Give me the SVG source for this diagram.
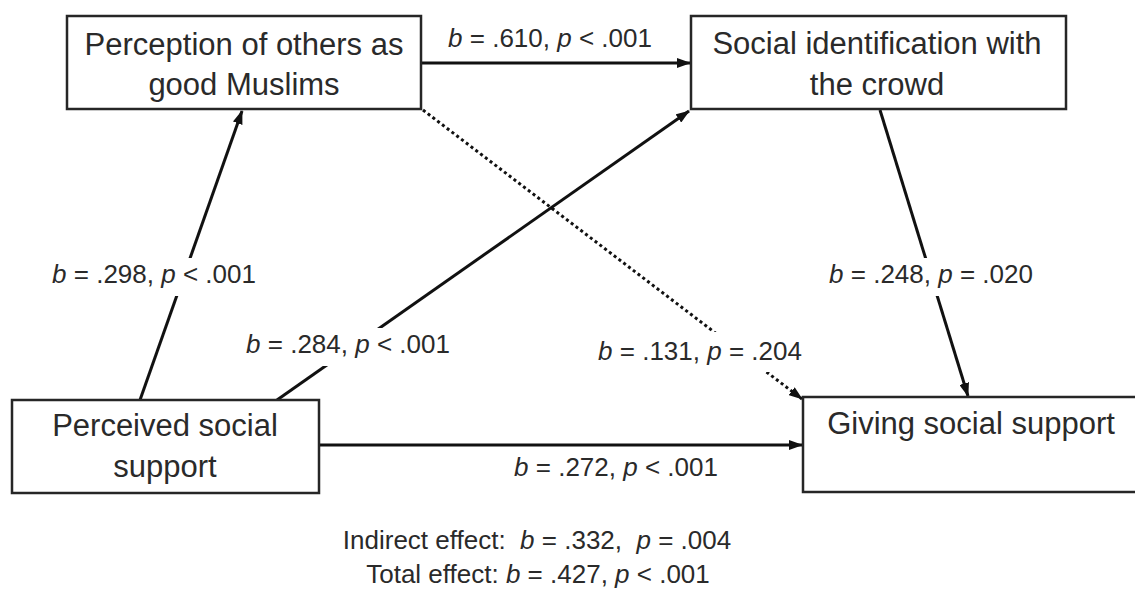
<svg xmlns="http://www.w3.org/2000/svg" width="1135" height="590" viewBox="0 0 1135 590">
<style>
.box{fill:#fff;stroke:#262626;stroke-width:2.5}
.nt{font-family:"Liberation Sans",Arial,sans-serif;font-size:31px;fill:#2a2a2a;text-anchor:middle}
.lb{font-family:"Liberation Sans",Arial,sans-serif;font-size:26px;fill:#2a2a2a;text-anchor:middle}
.ln{stroke:#111;stroke-width:3;fill:none;marker-end:url(#ah)}
.dt{stroke:#111;stroke-width:3;fill:none;stroke-dasharray:3 3;marker-end:url(#ah)}
.bg{fill:#fff}
</style>
<defs>
<marker id="ah" markerUnits="userSpaceOnUse" markerWidth="14" markerHeight="10" refX="13" refY="5" orient="auto">
<path d="M0,0 L14,5 L0,10 z" fill="#111"/>
</marker>
</defs>
<rect width="1135" height="590" fill="#fff"/>
<g id="connectors">
<line class="ln" x1="421" y1="63" x2="690" y2="63"/>
<line class="ln" x1="140" y1="400" x2="242" y2="111"/>
<line class="ln" x1="277" y1="400" x2="689" y2="111"/>
<line class="dt" x1="423" y1="110" x2="802" y2="399"/>
<line class="ln" x1="880" y1="110" x2="968" y2="396"/>
<line class="ln" x1="319" y1="445" x2="802" y2="445"/>
</g>
<g id="labels">
<rect class="bg" x="40" y="258" width="228" height="38"/>
<text class="lb" x="154" y="283"><tspan font-style="italic">b</tspan> = .298, <tspan font-style="italic">p</tspan> &lt; .001</text>
<rect class="bg" x="815" y="258" width="230" height="38"/>
<text class="lb" x="931" y="283"><tspan font-style="italic">b</tspan> = .248, <tspan font-style="italic">p</tspan> = .020</text>
<rect class="bg" x="235" y="328" width="226" height="38"/>
<text class="lb" x="348" y="353"><tspan font-style="italic">b</tspan> = .284, <tspan font-style="italic">p</tspan> &lt; .001</text>
<rect class="bg" x="588" y="332" width="224" height="40"/>
<text class="lb" x="700" y="360"><tspan font-style="italic">b</tspan> = .131, <tspan font-style="italic">p</tspan> = .204</text>
<text class="lb" x="550" y="47"><tspan font-style="italic">b</tspan> = .610, <tspan font-style="italic">p</tspan> &lt; .001</text>
<text class="lb" x="616" y="476"><tspan font-style="italic">b</tspan> = .272, <tspan font-style="italic">p</tspan> &lt; .001</text>
<text class="lb" x="537" y="549" xml:space="preserve">Indirect effect:  <tspan font-style="italic">b</tspan> = .332,  <tspan font-style="italic">p</tspan> = .004</text>
<text class="lb" x="538" y="583">Total effect: <tspan font-style="italic">b</tspan> = .427, <tspan font-style="italic">p</tspan> &lt; .001</text>
</g>
<g id="node-perception">
<rect class="box" x="67" y="16" width="354" height="93"/>
<text class="nt" x="244" y="55">Perception of others as</text>
<text class="nt" x="244" y="95">good Muslims</text>
</g>
<g id="node-identification">
<rect class="box" x="691" y="16" width="375" height="93"/>
<text class="nt" x="877" y="54">Social identification with</text>
<text class="nt" x="877" y="95">the crowd</text>
</g>
<g id="node-perceived">
<rect class="box" x="12" y="400" width="307" height="93"/>
<text class="nt" x="165" y="436">Perceived social</text>
<text class="nt" x="165" y="477">support</text>
</g>
<g id="node-giving">
<rect class="box" x="803" y="397" width="345" height="95"/>
<text class="nt" x="971" y="434">Giving social support</text>
</g>
</svg>
